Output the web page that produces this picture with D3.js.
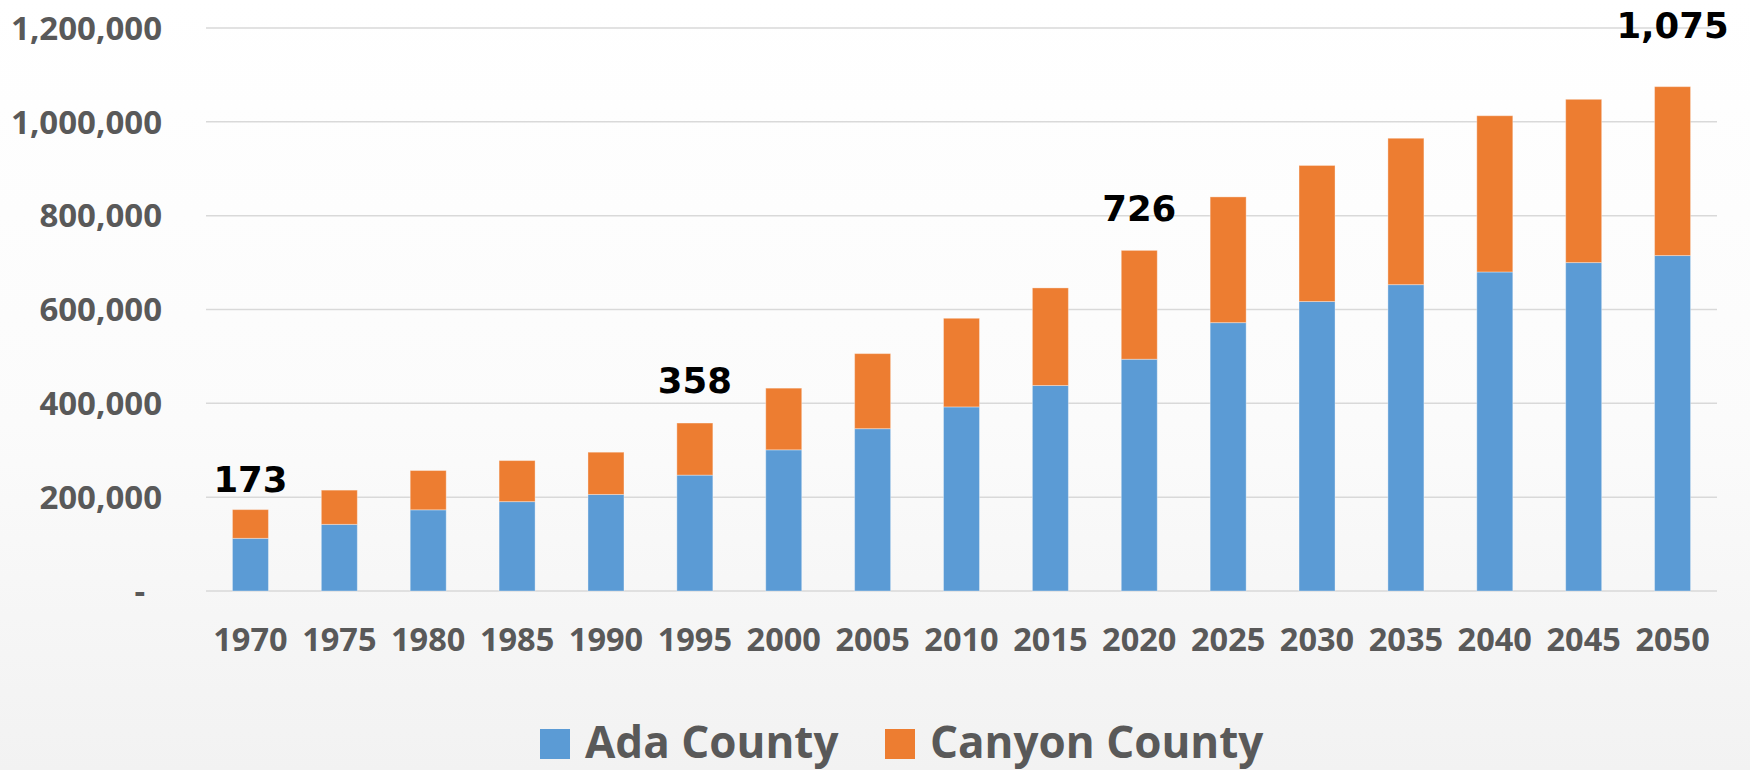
<!DOCTYPE html>
<html>
<head>
<meta charset="utf-8">
<script src="https://cdn.jsdelivr.net/npm/d3@7"></script>
<style>
  html, body { margin: 0; padding: 0; }
  body { width: 1750px; height: 770px; overflow: hidden; }
</style>
</head>
<body>
<svg id="chart" width="1750" height="770"></svg>
<script>
// ---- data (in persons) ----
const years = ["1970","1975","1980","1985","1990","1995","2000","2005","2010","2015","2020","2025","2030","2035","2040","2045","2050"];
const adaCounty    = [112230,142000,173036,190500,205775,247000,300904,346000,392365,438000,494000,572000,617000,653000,680000,700000,715000];
const canyonCounty = [ 61288, 73000, 83756, 87500, 90076,111000,131441,160000,188923,208000,232000,268000,290000,312000,333000,348000,360000];
const seriesNames  = ["Ada County","Canyon County"];
const yTicks = [0,200000,400000,600000,800000,1000000,1200000];
// highlighted totals (in thousands) and the value at which each label's baseline sits
const callouts = [
  {year:"1970", text:"173",   at:211000},
  {year:"1995", text:"358",   at:422000},
  {year:"2020", text:"726",   at:789000},
  {year:"2050", text:"1,075", at:1179000}
];

const colors = ["#5B9BD5","#ED7D31"];

const svg = d3.select("#chart");
const W = 1750, H = 770;
const plot = {left:206, right:1717, top:28, bottom:591};

// background gradient
const defs = svg.append("defs");
const grad = defs.append("linearGradient").attr("id","bg").attr("x1",0).attr("y1",0).attr("x2",0).attr("y2",1);
grad.append("stop").attr("offset","0%").attr("stop-color","#ffffff");
grad.append("stop").attr("offset","55%").attr("stop-color","#fbfbfb");
grad.append("stop").attr("offset","100%").attr("stop-color","#f2f2f2");
svg.append("rect").attr("width",W).attr("height",H).attr("fill","url(#bg)");

const x = d3.scaleBand().domain(years).range([plot.left, plot.right])
  .paddingInner(0.595).paddingOuter(0.2975);
const y = d3.scaleLinear().domain([0,1200000]).range([plot.bottom, plot.top]);

// gridlines
svg.append("g").selectAll("line").data(yTicks).join("line")
  .attr("x1", plot.left).attr("x2", plot.right)
  .attr("y1", d => y(d)).attr("y2", d => y(d))
  .attr("stroke", "#d9d9d9").attr("stroke-width", 1.5);

// y axis labels
const yAxis = d3.axisLeft(y).tickValues(yTicks).tickSize(0).tickPadding(0)
  .tickFormat(d => d === 0 ? "-" : d3.format(",")(d));
const gy = svg.append("g").attr("transform", `translate(162,0)`).call(yAxis);
gy.select(".domain").remove();
gy.selectAll("text")
  .attr("fill","#595959")
  .style("font-family","'Open Sans', sans-serif")
  .style("font-weight","700")
  .style("font-size","33px")
  .attr("dy","0.34em");
gy.selectAll(".tick").filter(d => d === 0).select("text").attr("dx", -17);

// stacked bars
const rows = years.map((yr,i) => ({year:yr, ada:adaCounty[i], canyon:canyonCounty[i]}));
const stack = d3.stack().keys(["ada","canyon"]);
const stacked = stack(rows);

svg.append("g").selectAll("g").data(stacked).join("g")
  .attr("fill", (d,i) => colors[i])
  .selectAll("rect").data(d => d).join("rect")
  .attr("x", d => x(d.data.year))
  .attr("width", x.bandwidth())
  .attr("y", d => y(d[1]))
  .attr("height", d => y(d[0]) - y(d[1]))
  .attr("stroke", "#ffffff").attr("stroke-opacity", 0.35).attr("stroke-width", 1);

// x axis labels
const xAxis = d3.axisBottom(x).tickSize(0).tickPadding(0);
const gx = svg.append("g").attr("transform", `translate(0,651)`).call(xAxis);
gx.select(".domain").remove();
gx.selectAll("text")
  .attr("dy", 0).attr("y", 0)
  .attr("fill","#595959")
  .style("font-family","'Open Sans', sans-serif")
  .style("font-weight","700")
  .style("font-size","32.5px");

// callout labels
svg.append("g").selectAll("text").data(callouts).join("text")
  .attr("x", d => x(d.year) + x.bandwidth()/2)
  .attr("y", d => y(d.at))
  .attr("text-anchor","middle")
  .attr("fill","#000")
  .style("font-family","'DejaVu Sans', sans-serif")
  .style("font-weight","700")
  .style("font-size","35.5px")
  .text(d => d.text);

// legend
const legend = svg.append("g");
const legendX = [540, 885];
seriesNames.forEach((name,i) => {
  const g = legend.append("g").attr("transform", `translate(${legendX[i]},0)`);
  g.append("rect").attr("x",0).attr("y",729).attr("width",30).attr("height",30).attr("fill",colors[i]);
  g.append("text").attr("x",45).attr("y",758)
    .attr("fill","#595959")
    .style("font-family","'Open Sans', sans-serif")
    .style("font-weight","700")
    .style("font-size","44px")
    .text(name);
});
</script>
</body>
</html>
